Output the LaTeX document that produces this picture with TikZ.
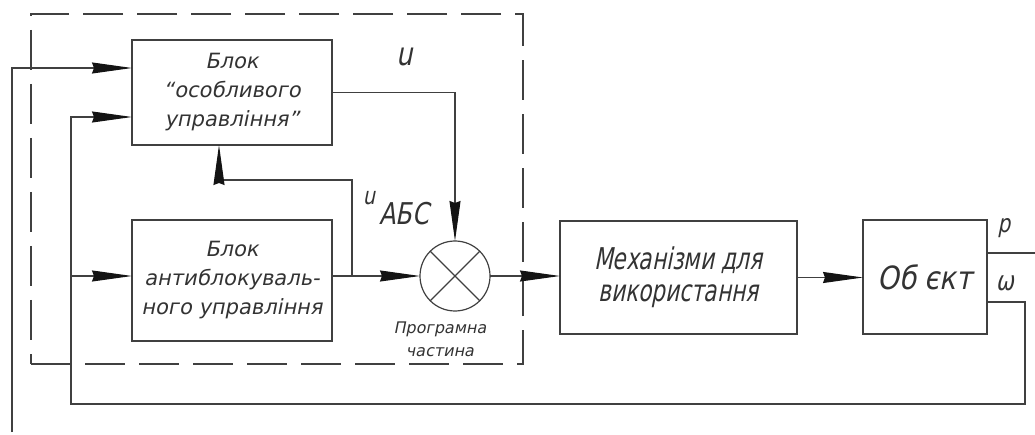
\documentclass[tikz,border=0pt]{standalone}
\usepackage{fontspec}
\setmainfont{DejaVu Sans}
\newfontfamily\gA[FakeSlant=0.2]{DejaVu Sans}
\newfontfamily\gB[FakeSlant=0.2,FakeStretch=0.72]{DejaVu Sans}
\newfontfamily\gC[FakeSlant=0.2,FakeStretch=0.86]{DejaVu Sans}
\newfontfamily\gD[FakeSlant=0.2,FakeStretch=0.8]{DejaVu Sans}
\usetikzlibrary{arrows.meta}
\definecolor{ink}{gray}{0.25}
\definecolor{txt}{gray}{0.2}
\definecolor{tip}{gray}{0.08}
\begin{document}
\begin{tikzpicture}[x=1pt,y=-1pt,
  line width=1.2pt, draw=ink, color=ink,
  blk/.style={draw=ink, line width=1.2pt, rectangle, inner sep=0pt, outer sep=0pt, align=center, text=txt},
  arr/.style={draw=ink, -{Stealth[length=40pt,width=11pt,inset=2pt,color=tip]}},
  lbl/.style={inner sep=0pt, text=txt},
  ]
\useasboundingbox (0,0) rectangle (1035,435);
% dashed program part
\node[draw=ink, line width=1.2pt, dash pattern=on 40pt off 14pt, minimum width=492pt, minimum height=350pt, inner sep=0pt, outer sep=0pt] (prog) at (277,189) {};
% blocks
\node[blk, minimum width=200pt, minimum height=105pt, font=\gA\fontsize{21}{29}\selectfont] (top) at (232,92.5) {Блок\\“особливого\\управління”};
\node[blk, minimum width=200pt, minimum height=121pt, font=\gA\fontsize{21}{29}\selectfont] (abs) at (232,280.5) {Блок\\антиблокуваль-\\ного управління};
\node[blk, minimum width=237pt, minimum height=113pt, font=\gB\fontsize{30}{32}\selectfont] (mech) at (678.5,277.5) {Механізми для\\використання};
\node[blk, minimum width=124pt, minimum height=114pt, font=\gC\fontsize{32}{33}\selectfont] (obj) at (925,277) {Об єкт};
\node[circle, draw=ink, line width=1.2pt, minimum size=70pt, inner sep=0pt, outer sep=0pt] (sum) at (455,276) {};
\draw (sum.north west) -- (sum.south east);
\draw (sum.north east) -- (sum.south west);
% labels
\node[lbl, font=\gD\fontsize{32}{32}\selectfont] (lu) at (405,57) {u};
\node[lbl, font=\gD\fontsize{24}{24}\selectfont] (lu2) at (369,198) {u};
\node[lbl, font=\gD\fontsize{30}{30}\selectfont] (labs) at (404,214) {АБС};
\node[lbl, font=\gA\fontsize{16}{23}\selectfont, align=center] (lprog) at (440,339) {Програмна\\частина};
\node[lbl, font=\gD\fontsize{25}{25}\selectfont] (lp) at (1004,228) {p};
\node[lbl, font=\gD\fontsize{27}{27}\selectfont] (lw) at (1005,283) {ω};
% coordinates
\coordinate (c1) at (12,432);
\coordinate (j1) at (71,276);
\coordinate (j2) at (352,276);
\coordinate (k) at (219,180);
\coordinate (pout) at (1035,253);
\coordinate (wR) at (1025,302);
\coordinate (fbR) at (1025,404);
\coordinate (fbL) at (71,404);
% connectors
\draw[arr] (c1) |- ([yshift=24.5pt]top.west);
\draw[arr] (wR -| obj.east) -- (wR) -- (fbR) -- (fbL) |- ([yshift=-24.5pt]top.west);
\draw[arr] (j1) -- (j1 -| abs.west);
\draw[arr] (abs.east |- sum) -- (sum.west);
\draw[arr] (j2) |- (k) -- (k |- top.south);
\draw[arr] (top.east) -| (sum.north);
\draw[arr] (sum.east) -- (sum.east -| mech.west);
\draw[arr] (mech.east) -- (mech.east -| obj.west);
\draw (pout -| obj.east) -- (pout);
\end{tikzpicture}
\end{document}
